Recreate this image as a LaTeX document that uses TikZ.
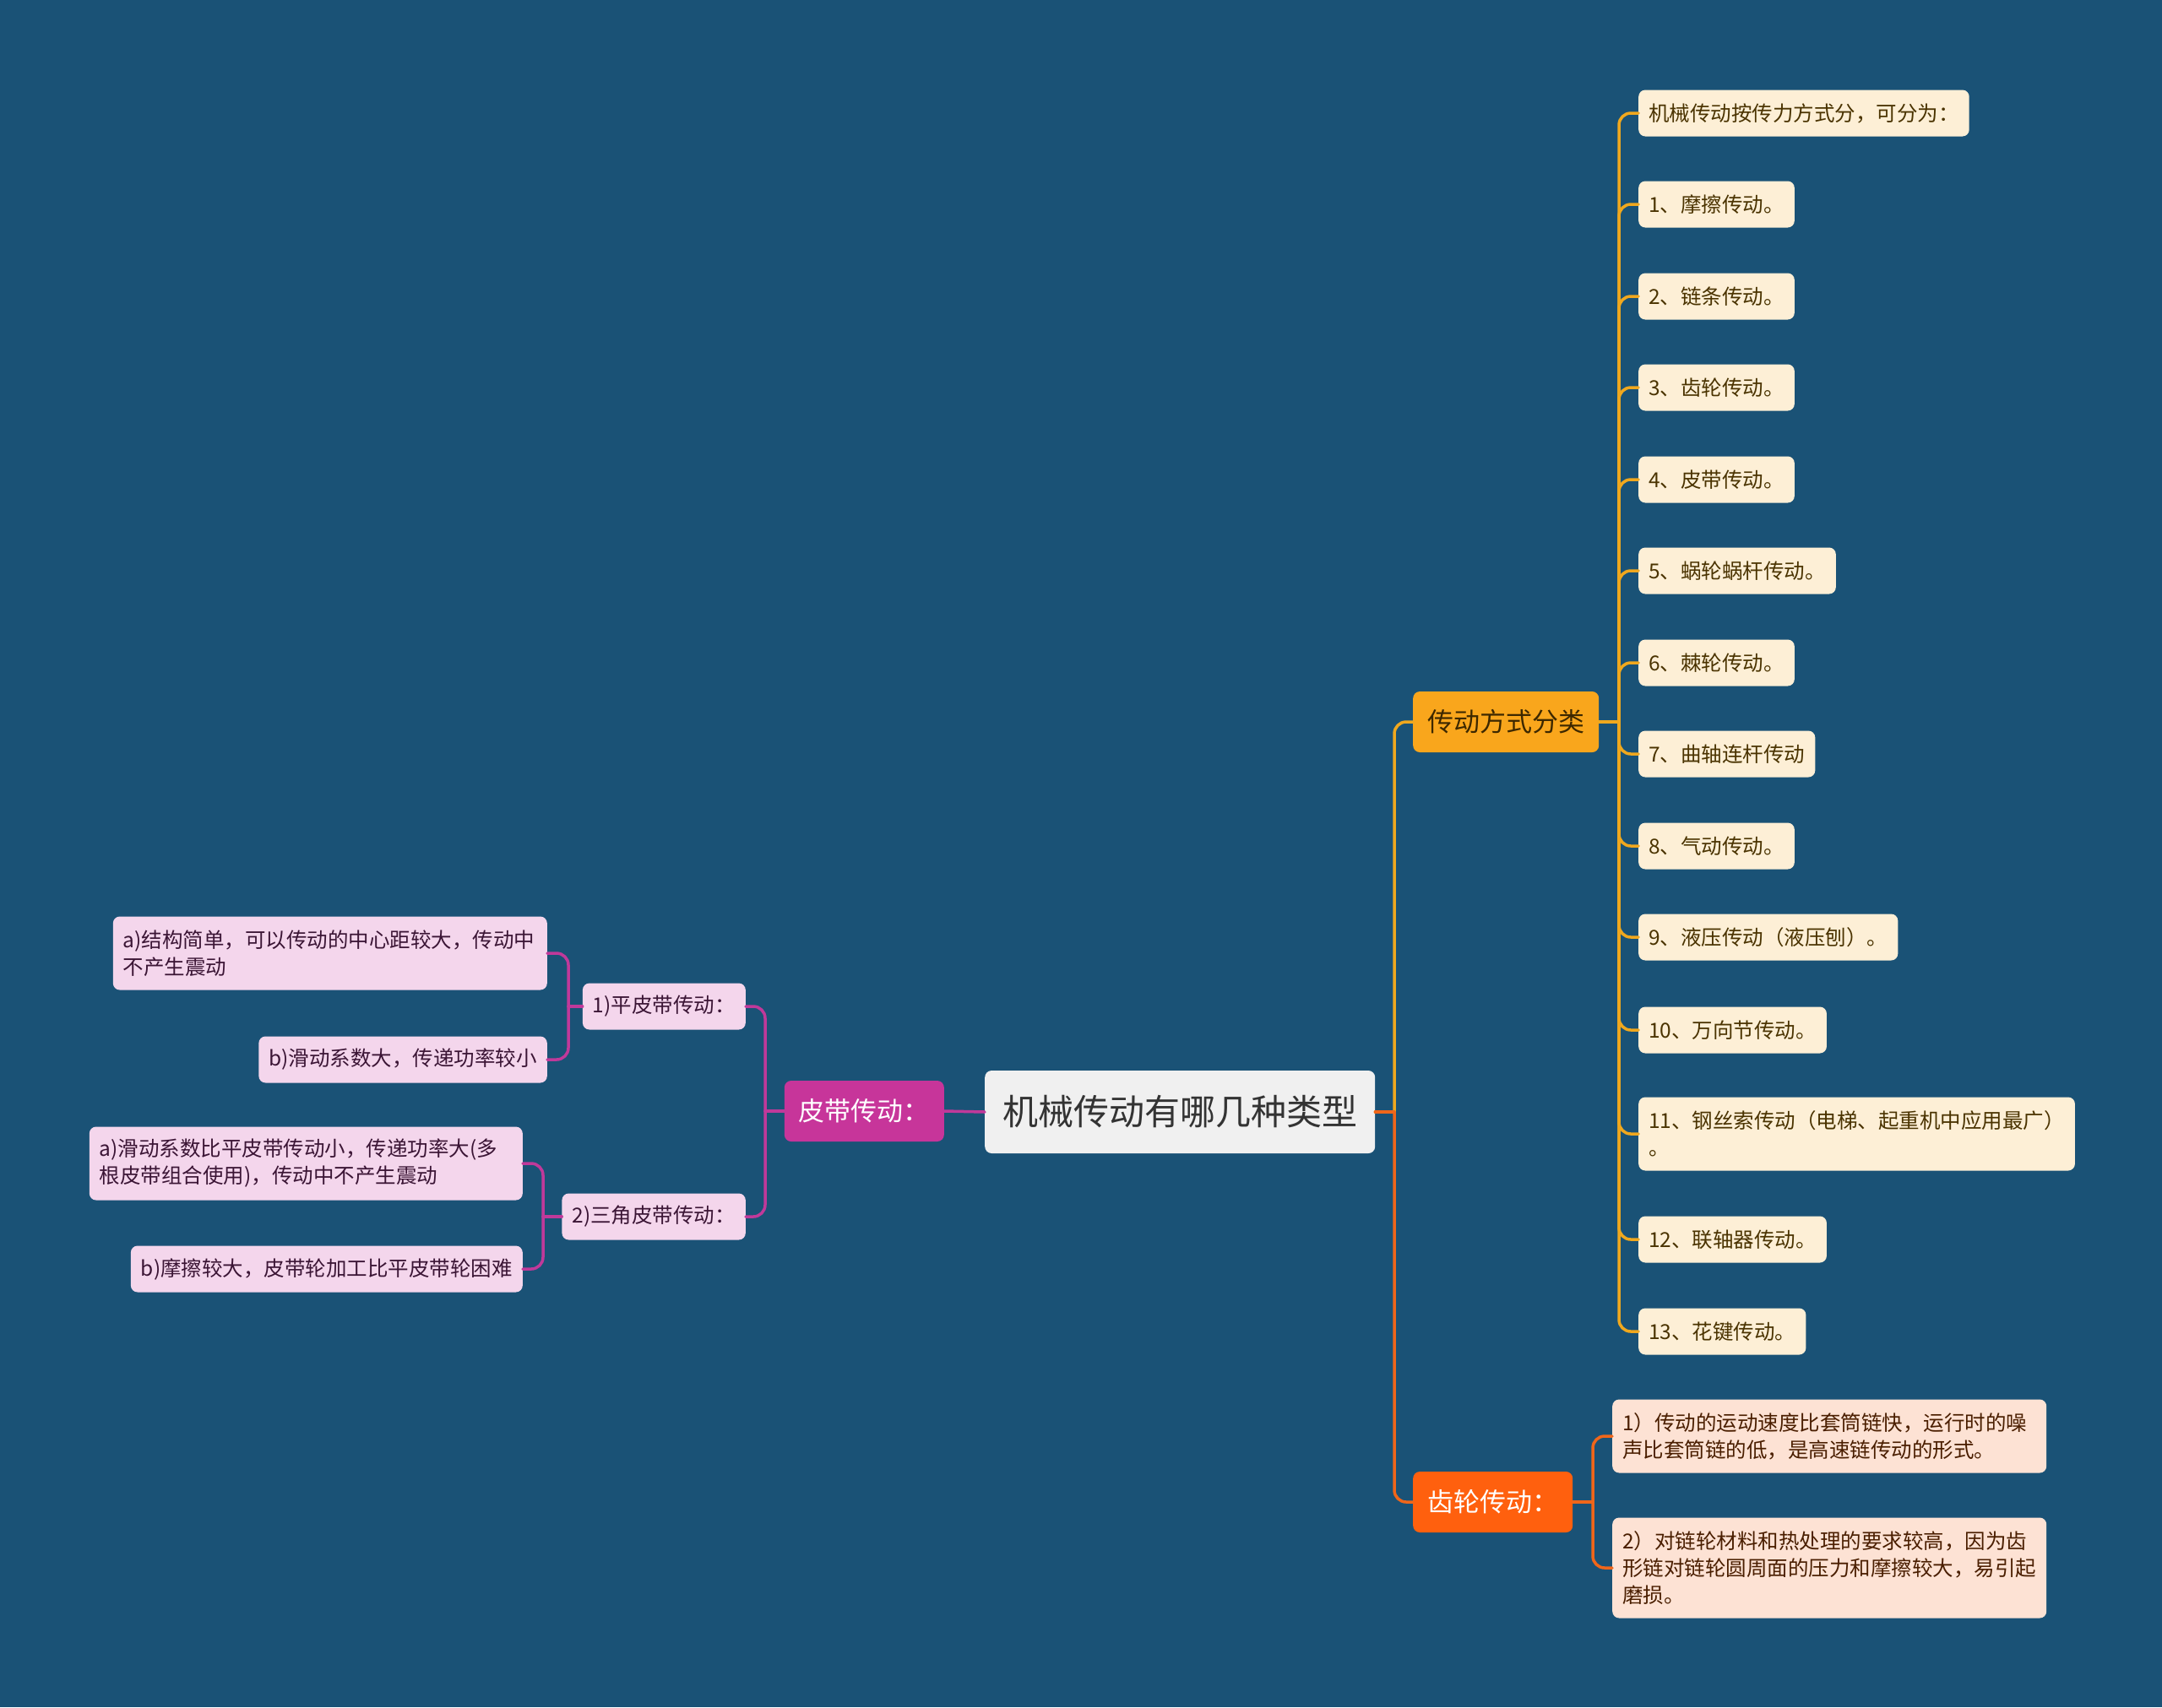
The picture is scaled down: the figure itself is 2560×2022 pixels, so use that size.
\documentclass[tikz,border=0pt]{standalone}
\usepackage{fontspec}
\setmainfont{Noto Sans CJK SC}
\definecolor{bg}{HTML}{1A5276}
\definecolor{rootfill}{HTML}{F0F0F0}
\definecolor{roottext}{HTML}{333333}
\definecolor{yfill}{HTML}{F9A61C}
\definecolor{ytext}{HTML}{3D2800}
\definecolor{yleaf}{HTML}{FDEFD6}
\definecolor{yleaftext}{HTML}{4A3300}
\definecolor{yline}{HTML}{F0A81E}
\definecolor{ofill}{HTML}{FF600E}
\definecolor{oleaf}{HTML}{FDE2D4}
\definecolor{oleaftext}{HTML}{4A1E00}
\definecolor{oline}{HTML}{F0661A}
\definecolor{mfill}{HTML}{C7359A}
\definecolor{mleaf}{HTML}{F4D6EC}
\definecolor{mleaftext}{HTML}{3B1535}
\definecolor{mline}{HTML}{C0399A}
\tikzset{
  box/.style={rounded corners=8pt, inner ysep=0pt, align=left},
  rootbox/.style={box, fill=rootfill, text=roottext, inner xsep=21pt, minimum height=98pt, font=\fontsize{42}{50}\selectfont},
  mainbox/.style={box, inner xsep=17pt, minimum height=72pt, font=\fontsize{31}{38}\selectfont},
  leafbox/.style={box, inner xsep=12pt, minimum height=55pt, font=\fontsize{24.5}{32}\selectfont},
  twoline/.style={minimum height=87pt},
  threeline/.style={minimum height=119pt},
  yleafbox/.style={leafbox, fill=yleaf, text=yleaftext, anchor=west},
  oleafbox/.style={leafbox, fill=oleaf, text=oleaftext, anchor=west},
  mleafbox/.style={leafbox, fill=mleaf, text=mleaftext, anchor=east},
  conn/.style={line width=3.5pt, line cap=round, line join=round},
  yconn/.style={conn, draw=yline},
  oconn/.style={conn, draw=oline},
  mconn/.style={conn, draw=mline},
}
\begin{document}
\begin{tikzpicture}[x=1pt,y=-1pt]
\fill[bg] (0,0) rectangle (2560,2022);
\useasboundingbox (0,0) rectangle (2560,2022);

% trunk coordinates
\coordinate (tR) at (1651,0);
\coordinate (tY) at (1917,0);
\coordinate (tO) at (1886,0);
\coordinate (tM) at (906,0);
\coordinate (tM1) at (673,0);
\coordinate (tM2) at (643,0);

% root and main branches
\node[rootbox, anchor=west] (root) at (1166,1317) {机械传动有哪几种类型};
\node[mainbox, fill=yfill, text=ytext, anchor=west] (cls) at (1673,855) {传动方式分类};
\node[mainbox, fill=ofill, text=white, anchor=west] (gear) at (1673,1779) {齿轮传动：};
\node[mainbox, fill=mfill, text=white, anchor=east] (belt) at (1118,1316) {皮带传动：};

% right leaves
\node[yleafbox] (r0) at (1940,134) {机械传动按传力方式分，可分为：};
\node[yleafbox] (r1) at (1940,242) {1、摩擦传动。};
\node[yleafbox] (r2) at (1940,351) {2、链条传动。};
\node[yleafbox] (r3) at (1940,459) {3、齿轮传动。};
\node[yleafbox] (r4) at (1940,568) {4、皮带传动。};
\node[yleafbox] (r5) at (1940,676) {5、蜗轮蜗杆传动。};
\node[yleafbox] (r6) at (1940,785) {6、棘轮传动。};
\node[yleafbox] (r7) at (1940,893) {7、曲轴连杆传动};
\node[yleafbox] (r8) at (1940,1002) {8、气动传动。};
\node[yleafbox] (r9) at (1940,1110) {9、液压传动（液压刨）。};
\node[yleafbox] (r10) at (1940,1220) {10、万向节传动。};
\node[yleafbox, twoline] (r11) at (1940,1343) {11、钢丝索传动（电梯、起重机中应用最广）\\。};
\node[yleafbox] (r12) at (1940,1468) {12、联轴器传动。};
\node[yleafbox] (r13) at (1940,1577) {13、花键传动。};

% gear leaves
\node[oleafbox, twoline, text width=490pt] (g1) at (1909,1701) {1）传动的运动速度比套筒链快，运行时的噪\\声比套筒链的低，是高速链传动的形式。};
\node[oleafbox, threeline, text width=490pt] (g2) at (1909,1857) {2）对链轮材料和热处理的要求较高，因为齿\\形链对链轮圆周面的压力和摩擦较大，易引起\\磨损。};

% belt sub-branches
\node[mleafbox] (m1) at (883,1192) {1)平皮带传动：};
\node[mleafbox] (m2) at (883,1441) {2)三角皮带传动：};
\node[mleafbox, twoline, text width=490pt] (m1a) at (648,1129) {a)结构简单，可以传动的中心距较大，传动中\\不产生震动};
\node[mleafbox] (m1b) at (648,1255) {b)滑动系数大，传递功率较小};
\node[mleafbox, twoline, text width=489pt] (m2a) at (619,1378) {a)滑动系数比平皮带传动小，传递功率大(多\\根皮带组合使用)，传动中不产生震动};
\node[mleafbox] (m2b) at (619,1503) {b)摩擦较大，皮带轮加工比平皮带轮困难};

% connectors root -> main branches
\draw[yconn] (root.east) -- (root.east -| tR);
\draw[yconn, rounded corners=14pt] (root.east -| tR) -- (cls.west -| tR) -- (cls.west);
\draw[oconn] (root.east) -- (root.east -| tR);
\draw[oconn, rounded corners=14pt] (root.east -| tR) -- (gear.west -| tR) -- (gear.west);
\draw[mconn] (root.west) -- (belt.east);

% cls -> leaves
\draw[yconn] (cls.east) -- (cls.east -| tY);
\foreach \n in {r0,r1,r2,r3,r4,r5,r6,r7,r8,r9,r10,r11,r12,r13}
  \draw[yconn, rounded corners=14pt] (cls.east -| tY) -- (\n.west -| tY) -- (\n.west);

% gear -> leaves
\draw[oconn] (gear.east) -- (gear.east -| tO);
\foreach \n in {g1,g2}
  \draw[oconn, rounded corners=14pt] (gear.east -| tO) -- (\n.west -| tO) -- (\n.west);

% belt -> sub
\draw[mconn] (belt.west) -- (belt.west -| tM);
\foreach \n in {m1,m2}
  \draw[mconn, rounded corners=14pt] (belt.west -| tM) -- (\n.east -| tM) -- (\n.east);
\draw[mconn] (m1.west) -- (m1.west -| tM1);
\foreach \n in {m1a,m1b}
  \draw[mconn, rounded corners=14pt] (m1.west -| tM1) -- (\n.east -| tM1) -- (\n.east);
\draw[mconn] (m2.west) -- (m2.west -| tM2);
\foreach \n in {m2a,m2b}
  \draw[mconn, rounded corners=14pt] (m2.west -| tM2) -- (\n.east -| tM2) -- (\n.east);
\end{tikzpicture}
\end{document}
